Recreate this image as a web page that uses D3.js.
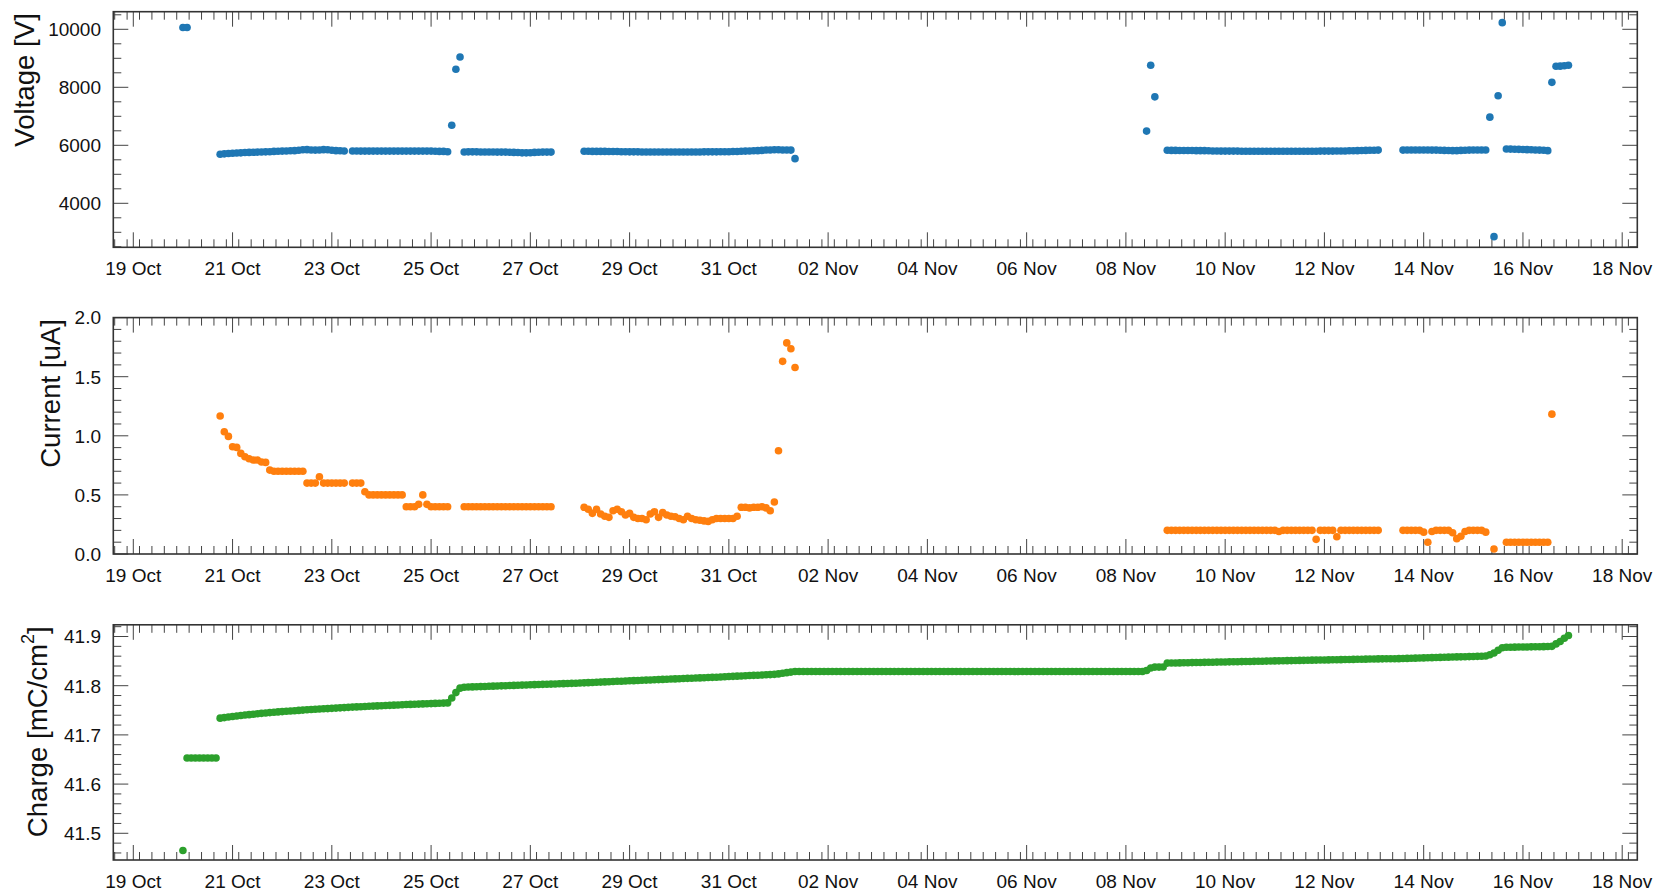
<!DOCTYPE html>
<html>
<head>
<meta charset="utf-8">
<script src="https://cdn.jsdelivr.net/npm/d3@7"></script>
<style>
  body { margin: 0; background: #fff; }
  svg { display: block; }
  text { font-family: "Liberation Sans", Arial, Helvetica, sans-serif; fill: #111; }
</style>
</head>
<body>
<svg id="chart" width="1655" height="891"></svg>
<script>
// ---------------- DATA (2-hour samples; each run = [start time, values]) ----------------
const sampleHours = 2;

const voltageRuns = [
  ["2023-10-20T00:00Z", [10060, 10060]],
  ["2023-10-20T18:00Z", [5690,5705,5715,5725,5735,5740,5750,5755,5760,5765,5770,5775,5780,5790,5795,5800,5805,5810,5815,5830,5845,5850,5840,5835,5840,5850,5845,5830,5815,5810,5805]],
  ["2023-10-23T10:00Z", [5805,5805,5800,5800,5800,5800,5800,5800,5800,5800,5800,5800,5800,5800,5800,5800,5800,5800,5800,5800,5795,5790,5790,5780, 6690,8620,9045]],
  ["2023-10-25T16:00Z", [5770,5775,5775,5775,5770,5770,5770,5770,5765,5765,5765,5760,5755,5750,5740,5740,5745,5755,5760,5765,5765,5765]],
  ["2023-10-28T02:00Z", [5795,5795,5790,5790,5790,5790,5785,5785,5785,
                         5780,5780,5775,5775,5775,5770,5770,5770,5770,5770,5770,5770,5770,5770,5770,5770,5770,5770,5770,5770,5775,5775,5775,5775,5780,5780,5780,5785,5785,
                         5795,5800,5805,5810,5815,5825,
                         5840,5840,5845,5845,5840,5840,5835, 5540]],
  ["2023-11-08T10:00Z", [6490, 8760, 7670]],
  ["2023-11-08T20:00Z", [5830,5825,5825,5820,5820,5820,5820,5815,5815,5815,5810,
                         5805,5805,5800,5800,5800,5800,5800,5795,5795,5795,5795,5795,5795,5795,5795,5795,5795,5795,5795,5795,
                         5795,5795,5795,5795,5795,5795,5800,5800,5800,5800,5805,5805,5805,5810,5810,
                         5815,5820,5825,5830,5830,5835]],
  ["2023-11-13T14:00Z", [5835,5840,5840,5840,5840,5840,5840,5835,5835,5830,5825,5820,5815,5815,5825,5830,5835,5840,5840,5840,5840,
                         6970,2850,7710,10230,
                         5875,5870,5865,5860,5855,5850,5845,5840,5835,5830,5815,
                         8170, 8725,8730,8745,8760]]
];

const currentRuns = [
  ["2023-10-20T18:00Z", [1.167,1.034,0.995,0.907,0.902,0.851,0.823,0.806,0.795,0.795,0.778,0.775,0.71,0.70,0.70,0.70,0.70,0.70,0.70,0.70,0.70,0.60,0.60,0.60,0.654,0.60,0.60,0.60,0.60,0.60,0.60]],
  ["2023-10-23T10:00Z", [0.60,0.60,0.60,0.527,0.50,0.50,0.50,0.50,0.50,0.50,0.50,0.50,0.50,0.40,0.40,0.40,0.42,0.50,0.42,0.40,0.40,0.40,0.40,0.40]],
  ["2023-10-25T16:00Z", [0.40,0.40,0.40,0.40,0.40,0.40,0.40,0.40,0.40,0.40,0.40,0.40,0.40,0.40,0.40,0.40,0.40,0.40,0.40,0.40,0.40,0.40]],
  ["2023-10-28T02:00Z", [0.395,0.378,0.344,0.378,0.338,0.32,0.31,0.366,0.378,0.358,0.33,0.344,0.31,0.30,0.30,0.29,0.338,0.358,0.31,0.35,
                         0.33,0.32,0.315,0.30,0.29,0.32,0.30,0.29,0.285,0.28,0.276,0.29,0.30,0.30,0.30,0.30,0.30,0.32,
                         0.395,0.395,0.39,0.395,0.395,0.40,0.39,0.366,0.44,0.873,1.63,1.786,1.736,1.578]],
  ["2023-11-08T20:00Z", [0.2,0.2,0.2,0.2,0.2,0.2,0.2,0.2,0.2,0.2,0.2,0.2,0.2,0.2,0.2,0.2,0.2,0.2,0.2,0.2,0.2,0.2,0.2,0.2,0.2,0.2,0.2,
                         0.19,0.2,0.2,0.2,0.2,0.2,0.2,0.2,0.2,0.124,0.2,0.2,0.2,0.2,0.146,
                         0.2,0.2,0.2,0.2,0.2,0.2,0.2,0.2,0.2,0.2]],
  ["2023-11-13T14:00Z", [0.2,0.2,0.2,0.2,0.2,0.185,0.10,0.19,0.2,0.2,0.2,0.2,0.18,0.13,0.15,0.19,0.2,0.2,0.2,0.2,0.185]],
  ["2023-11-15T10:00Z", [0.042]],
  ["2023-11-15T16:00Z", [0.1,0.1,0.1,0.1,0.1,0.1,0.1,0.1,0.1,0.1,0.1, 1.183]]
];

const chargeRuns = [
  ["2023-10-20T00:00Z", [41.465, 41.653,41.653,41.653,41.653,41.653,41.653,41.653,41.653]],
  ["2023-10-20T18:00Z", [41.7340,41.7352,41.7363,41.7374,41.7384,41.7394,41.7403,41.7412,41.7421,41.7430,41.7438,41.7446,41.7453,41.7460,41.7467,41.7474,
                         41.7480,41.7486,41.7492,41.7498,41.7504,41.7510,41.7515,41.7520,41.7525,41.7530,41.7535,41.7540,41.7545,41.7550,41.7555,41.7560,
                         41.7565,41.7569,41.7573,41.7577,41.7581,41.7585,41.7589,41.7593,41.7597,41.7601,41.7605,41.7609,41.7613,41.7617,41.7620,41.7623,
                         41.7626,41.7630,41.7633,41.7636,41.7640,41.7643,41.7646,41.7650, 41.775,41.786,41.795]],
  ["2023-10-25T16:00Z", [41.7970,41.7973,41.7976,41.7979,41.7982,41.7985,41.7988,41.7991,41.7994,41.7997,41.8000,41.8003,41.8006,41.8009,41.8012,41.8015,
                         41.8018,41.8021,41.8024,41.8027,41.8030,41.8033,41.8036,41.8039,41.8042,41.8045,41.8048,41.8051,41.8054,41.8058,41.8062,41.8066,
                         41.8070,41.8073,41.8077,41.8081,41.8085,41.8089,41.8092,41.8096,41.8100,41.8103,41.8107,41.8110,41.8114,41.8117,41.8121,41.8124,
                         41.8128,41.8131,41.8135,41.8138,41.8142,41.8145,41.8149,41.8152,41.8156,41.8159,41.8163,41.8166,41.8170,41.8173,41.8177,41.8181,
                         41.8186,41.8190,41.8194,41.8198,41.8202,41.8206,41.8210,41.8214,41.8218,41.8222,41.8226,41.8231,41.8240,41.8252,41.8265,41.8277,41.8288]],
  ["2023-11-01T10:00Z", [41.8288,41.8288,41.8288,41.8288,41.8288,41.8288,41.8288,41.8288,41.8288,41.8288,41.8288,41.8288,41.8288,41.8288,
                         41.8288,41.8288,41.8288,41.8288,41.8288,41.8288,41.8288,41.8288,41.8288,41.8288,41.8288,41.8288,41.8288,41.8288,
                         41.8288,41.8288,41.8288,41.8288,41.8288,41.8288,41.8288,41.8288,41.8288,41.8288,41.8288,41.8288,41.8288,41.8288,
                         41.8288,41.8288,41.8288,41.8288,41.8288,41.8288,41.8288,41.8288,41.8288,41.8288,41.8288,41.8288,41.8288,41.8288,
                         41.8288,41.8288,41.8288,41.8288,41.8288,41.8288,41.8288,41.8288,41.8288,41.8288,41.8288,41.8288,41.8288,41.8288,
                         41.8288,41.8288,41.8288,41.8288,41.8288,41.8288,41.8288,41.8288,41.8288,41.8288,41.8288,41.8288,41.8288,41.8288]],
  ["2023-11-08T10:00Z", [41.8310,41.8360,41.8378,41.8378,41.8380,
                         41.8459,41.8461,41.8463,41.8464,41.8466,41.8468,41.8470,41.8471,41.8473,41.8475,41.8476,41.8478,41.8480,41.8481,41.8483,41.8485,
                         41.8487,41.8488,41.8490,41.8492,41.8493,41.8495,41.8497,41.8498,41.8500,41.8502,41.8504,41.8505,41.8507,41.8509,41.8510,41.8512,
                         41.8514,41.8515,41.8517,41.8519,41.8520,41.8522,41.8524,41.8525,41.8527,41.8528,41.8530,41.8532,41.8533,41.8535,41.8537,41.8538,
                         41.8540,41.8542,41.8543,41.8545]],
  ["2023-11-13T04:00Z", [41.8546,41.8547,41.8548,41.8549,41.8550,
                         41.8552,41.8555,41.8557,41.8560,41.8562,41.8565,41.8567,41.8570,41.8572,41.8575,41.8577,41.8580,41.8582,41.8585,41.8587,41.8590,
                         41.8592,41.8595,41.8597,41.8600,41.8603,
                         41.8630,41.8665,41.8720,41.8770,
                         41.8782,41.8783,41.8784,41.8786,41.8787,41.8788,41.8790,41.8791,41.8793,41.8794,41.8796,
                         41.8800,41.8850,41.8900,41.8966,41.9020]]
];

const xTickDates = ["2023-10-19","2023-10-21","2023-10-23","2023-10-25","2023-10-27","2023-10-29","2023-10-31",
                    "2023-11-02","2023-11-04","2023-11-06","2023-11-08","2023-11-10","2023-11-12","2023-11-14","2023-11-16","2023-11-18"];
const voltageTicks = [4000, 6000, 8000, 10000];
const currentTicks = [0.0, 0.5, 1.0, 1.5, 2.0];
const chargeTicks  = [41.5, 41.6, 41.7, 41.8, 41.9];

// ---------------- LAYOUT ----------------
const plotLeft = 113.3, plotRight = 1637.3;
const panels = [
  { runs: voltageRuns, top: 11.7, bottom: 247.3, domain: [2483, 10607], ticks: voltageTicks, minor: [2500, 500], fmt: d3.format("d"),
    color: "#1f77b4", title: "Voltage [V]", titleX: 34, sup: null },
  { runs: currentRuns, top: 317.6, bottom: 554, domain: [0, 2.0], ticks: currentTicks, minor: [0, 0.1], fmt: d3.format(".1f"),
    color: "#ff7f0e", title: "Current [uA]", titleX: 59.5, sup: null },
  { runs: chargeRuns, top: 624.8, bottom: 860, domain: [41.4457, 41.9238], ticks: chargeTicks, minor: [41.46, 0.02], fmt: d3.format(".1f"),
    color: "#2ca02c", title: "Charge [mC/cm", titleX: 47, sup: "2" }
];

const parseT = d3.utcParse("%Y-%m-%dT%H:%MZ");
const parseD = d3.utcParse("%Y-%m-%d");
const xRef = d3.scaleUtc().domain([parseD("2023-10-19"), parseD("2023-11-18")]).range([133.3, 1622.2]);
const x = d3.scaleUtc().domain([xRef.invert(plotLeft), xRef.invert(plotRight)]).range([plotLeft, plotRight]);

function expand(runs) {
  const out = [];
  runs.forEach(([start, vals]) => {
    const t0 = parseT(start);
    vals.forEach((v, i) => out.push({ t: d3.utcHour.offset(t0, i * sampleHours), v }));
  });
  return out;
}

const svg = d3.select("#chart");
const fmtDate = d3.utcFormat("%d %b");
const majorDates = xTickDates.map(parseD);
const minorDates = d3.utcHour.range(x.domain()[0], x.domain()[1]).filter(d => d.getUTCHours() % 6 === 3);
const majLen = 15, minLen = 8;
const tickColor = "#444";

panels.forEach(p => {
  const y = d3.scaleLinear().domain(p.domain).range([p.bottom, p.top]);
  const g = svg.append("g");

  // x ticks (bottom & top, inward)
  const tg = g.append("g").attr("stroke", tickColor).attr("stroke-width", 1);
  minorDates.forEach(d => {
    const xx = x(d);
    tg.append("line").attr("x1", xx).attr("x2", xx).attr("y1", p.bottom).attr("y2", p.bottom - minLen);
    tg.append("line").attr("x1", xx).attr("x2", xx).attr("y1", p.top).attr("y2", p.top + minLen);
  });
  majorDates.forEach(d => {
    const xx = x(d);
    tg.append("line").attr("x1", xx).attr("x2", xx).attr("y1", p.bottom).attr("y2", p.bottom - majLen);
    tg.append("line").attr("x1", xx).attr("x2", xx).attr("y1", p.top).attr("y2", p.top + majLen);
  });

  // y ticks (left & right, inward)
  const lo = p.domain[0], hi = p.domain[1];
  const minors = d3.range(p.minor[0], hi + 1e-9, p.minor[1]).filter(v => v >= lo && !p.ticks.some(t => Math.abs(t - v) < 1e-6));
  minors.forEach(v => {
    const yy = y(v);
    tg.append("line").attr("x1", plotLeft).attr("x2", plotLeft + minLen).attr("y1", yy).attr("y2", yy);
    tg.append("line").attr("x1", plotRight).attr("x2", plotRight - minLen).attr("y1", yy).attr("y2", yy);
  });
  p.ticks.forEach(v => {
    const yy = y(v);
    tg.append("line").attr("x1", plotLeft).attr("x2", plotLeft + majLen).attr("y1", yy).attr("y2", yy);
    tg.append("line").attr("x1", plotRight).attr("x2", plotRight - majLen).attr("y1", yy).attr("y2", yy);
  });

  // frame
  g.append("rect").attr("x", plotLeft).attr("y", p.top).attr("width", plotRight - plotLeft).attr("height", p.bottom - p.top)
    .attr("fill", "none").attr("stroke", "#333").attr("stroke-width", 1.6);

  // data points (drawn above the ticks)
  g.append("g").selectAll("circle").data(expand(p.runs)).join("circle")
    .attr("cx", d => x(d.t)).attr("cy", d => y(d.v)).attr("r", 3.8).attr("fill", p.color);

  // y tick labels
  g.append("g").selectAll("text").data(p.ticks).join("text")
    .attr("x", 101).attr("y", v => y(v)).attr("dy", "0.36em").attr("text-anchor", "end")
    .attr("font-size", 19).text(v => p.fmt(v));

  // x tick labels
  g.append("g").selectAll("text").data(majorDates).join("text")
    .attr("x", d => x(d)).attr("y", p.bottom + 27.7).attr("text-anchor", "middle")
    .attr("font-size", 19).text(d => fmtDate(d));

  // y title (aligned to the top end of the axis)
  const t = g.append("text").attr("transform", `translate(${p.titleX},${p.top + 1.5}) rotate(-90)`)
    .attr("text-anchor", "end").attr("font-size", 27.6);
  t.append("tspan").text(p.title);
  if (p.sup) {
    t.append("tspan").attr("font-size", 18).attr("dy", "-0.75em").text(p.sup);
    t.append("tspan").attr("dy", "0.5em").text("]");
  }
});
</script>
</body>
</html>
